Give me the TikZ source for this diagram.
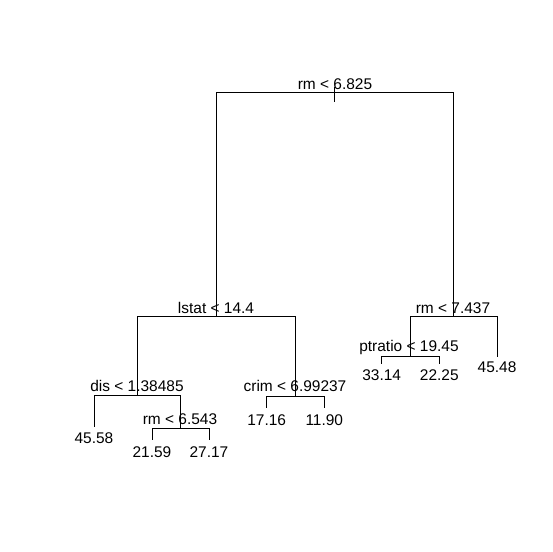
\documentclass[tikz,border=0pt]{standalone}
\usepackage{fontspec}
\setmainfont{Liberation Sans}
\newcommand{\treefont}{\fontsize{11.6}{14}\selectfont}
\tikzset{every picture/.style={line width=0.75pt}}
\tikzset{lbl/.style={anchor=base,inner sep=0.75pt,font=\treefont}}
\begin{document}
\begin{tikzpicture}[x=0.75pt,y=0.75pt,yscale=-1,xscale=1]
    \useasboundingbox (0,0) rectangle (553,552);
    %Split points
    \coordinate (rootTop) at (334,86.7);
    \coordinate (root) at (334,92.7);
    \coordinate (rootBot) at (334,101.7);
    \coordinate (lstat) at (216,316.5);
    \coordinate (rmB) at (453,316.3);
    \coordinate (dis) at (137,395.3);
    \coordinate (crim) at (295,396);
    \coordinate (rmC) at (180,428.3);
    \coordinate (ptratio) at (410,356.7);
    %Leaf ends
    \coordinate (lfA) at (94,426.5);
    \coordinate (lfB) at (152,440);
    \coordinate (lfC) at (209,440);
    \coordinate (lfD) at (266.7,408.3);
    \coordinate (lfE) at (324.3,408.3);
    \coordinate (lfF) at (381.7,364.3);
    \coordinate (lfG) at (439.3,364.3);
    \coordinate (lfH) at (497,356.7);
    %Straight Lines
    \draw (rootTop) -- (rootBot) ;
    \draw (root) -| (lstat) ;
    \draw (root) -| (rmB) ;
    \draw (lstat) -| (dis) ;
    \draw (lstat) -| (crim) ;
    \draw (dis) -| (lfA) ;
    \draw (dis) -| (rmC) ;
    \draw (rmC) -| (lfB) ;
    \draw (rmC) -| (lfC) ;
    \draw (crim) -| (lfD) ;
    \draw (crim) -| (lfE) ;
    \draw (rmB) -| (ptratio) ;
    \draw (rmB) -| (lfH) ;
    \draw (ptratio) -| (lfF) ;
    \draw (ptratio) -| (lfG) ;
    % Text Node
    \node (tRoot) [lbl] at (335,89.3) {rm < 6.825};
    \node (tLstat) [lbl] at (216,313.3) {lstat < 14.4};
    \node (tRmB) [lbl] at (453,313.3) {rm < 7.437};
    \node (tDis) [lbl] at (137,391.7) {dis < 1.38485};
    \node (tCrim) [lbl] at (295,391.9) {crim < 6.99237};
    \node (tRmC) [lbl] at (180,424.3) {rm < 6.543};
    \node (tPtratio) [lbl] at (409,351.7) {ptratio < 19.45};
    \node (tLfA) [lbl] at (94,443.7) {45.58};
    \node (tLfB) [lbl] at (152,457.2) {21.59};
    \node (tLfC) [lbl] at (209,457.2) {27.17};
    \node (tLfD) [lbl] at (266.7,425) {17.16};
    \node (tLfE) [lbl] at (324.3,425) {11.90};
    \node (tLfF) [lbl] at (381.7,380.7) {33.14};
    \node (tLfG) [lbl] at (439.3,380.7) {22.25};
    \node (tLfH) [lbl] at (497,372.3) {45.48};
\end{tikzpicture}
\end{document}
